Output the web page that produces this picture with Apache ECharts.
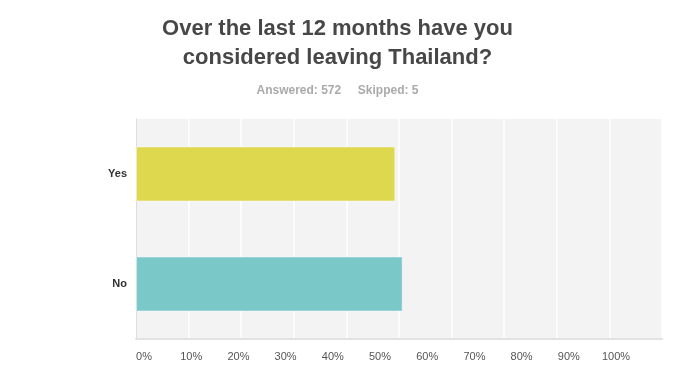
<!DOCTYPE html>
<html>
<head>
<meta charset="utf-8">
<script src="https://cdn.jsdelivr.net/npm/echarts@6/dist/echarts.min.js"></script>
<style>html,body{margin:0;padding:0;background:#fff;}#c{width:675px;height:388px;}</style>
</head>
<body>
<div id="c"></div>
<script>
var categories = ['Yes', 'No'];
var values = [49.3, 50.7];
var barColors = ['#ded84f', '#7bc8c9'];
var tickLabels = ['0%', '10%', '20%', '30%', '40%', '50%', '60%', '70%', '80%', '90%', '100%'];
var titleText = 'Over the last 12 months have you\nconsidered leaving Thailand?';
var subText = 'Answered: 572     Skipped: 5';

var chart = echarts.init(document.getElementById('c'));
chart.setOption({
  animation: false,
  title: [
    { text: titleText, left: 'center', top: 9,
      textStyle: { fontFamily: 'Liberation Sans', fontSize: 22, fontWeight: 'bold', color: '#474747', lineHeight: 29 } },
    { text: subText, left: 'center', top: 80,
      textStyle: { fontFamily: 'Liberation Sans', fontSize: 12, fontWeight: 'bold', color: '#aaaaaa' } }
  ],
  grid: [
    { left: 136, top: 119, width: 526, height: 220, show: true, backgroundColor: '#f3f3f3', borderWidth: 0 },
    { left: 144, top: 119, width: 472, height: 220, show: false }
  ],
  xAxis: [
    { type: 'value', gridIndex: 0, min: 0, max: 100, interval: 10,
      axisLabel: { show: false }, axisTick: { show: false },
      axisLine: { show: true, lineStyle: { color: '#e2e2e2', width: 2 } },
      splitLine: { show: true, lineStyle: { color: '#ffffff', width: 1.5 } } },
    { type: 'value', gridIndex: 1, min: 0, max: 100, interval: 10,
      axisLine: { show: false }, axisTick: { show: false }, splitLine: { show: false },
      axisLabel: { show: true, margin: 12, fontFamily: 'Liberation Sans', fontSize: 11, color: '#555555',
        formatter: function (v) { return tickLabels[Math.round(v / 10)]; } } }
  ],
  yAxis: [
    { type: 'category', gridIndex: 0, data: categories, inverse: true,
      axisTick: { show: false },
      axisLine: { show: true, lineStyle: { color: '#dddddd', width: 1 } },
      axisLabel: { margin: 9, fontFamily: 'Liberation Sans', fontSize: 11, fontWeight: 'bold', color: '#333333' } },
    { type: 'category', gridIndex: 1, data: categories, show: false }
  ],
  series: [{
    type: 'bar', xAxisIndex: 0, yAxisIndex: 0,
    barWidth: '50%',
    data: values.map(function (v, i) {
      return { value: v, itemStyle: { color: barColors[i], borderColor: 'rgba(255,255,255,0.45)', borderWidth: 1 } };
    })
  }]
});
</script>
</body>
</html>
